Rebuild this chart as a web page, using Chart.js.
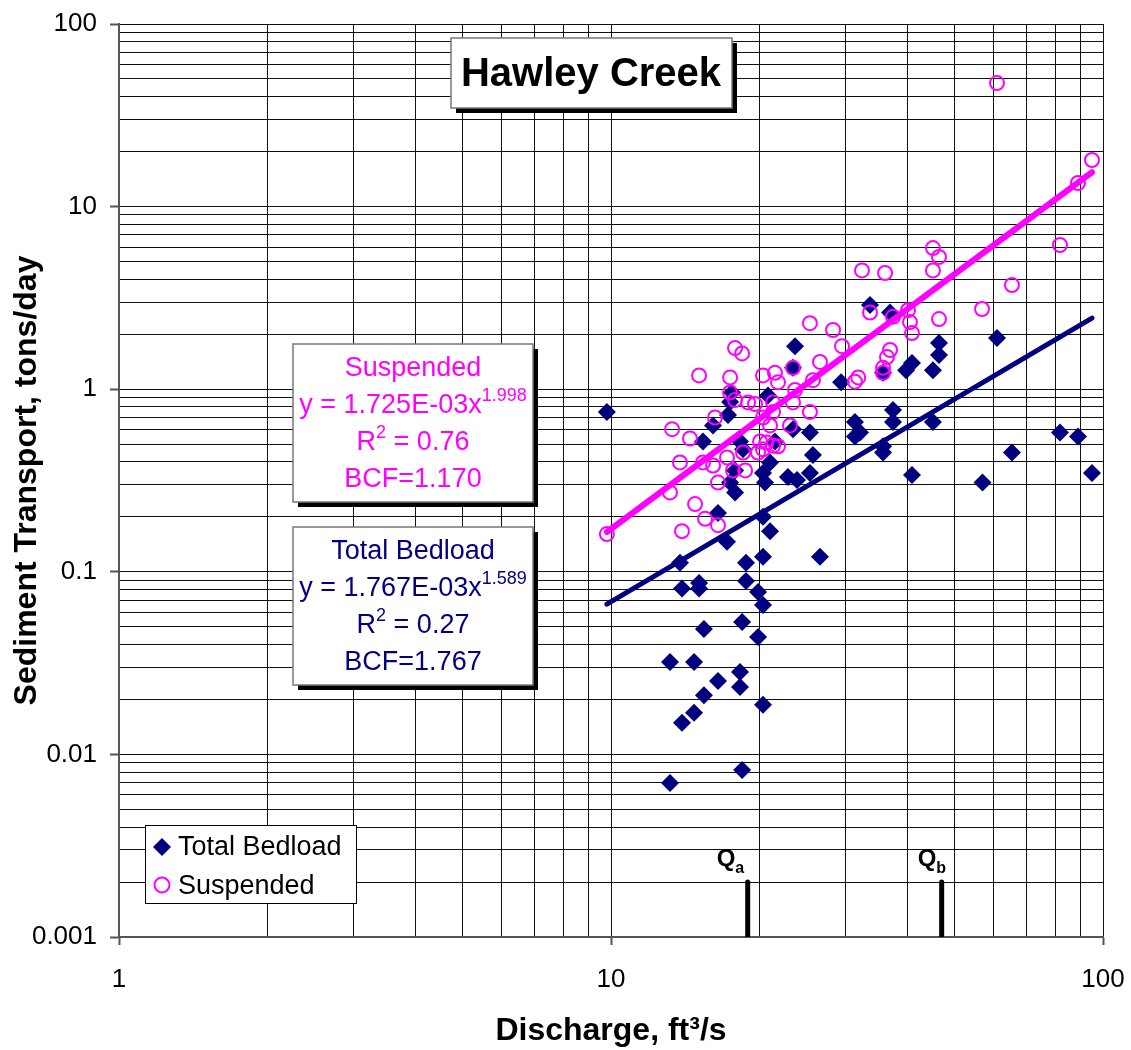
<!DOCTYPE html>
<html>
<head>
<meta charset="utf-8">
<script src="https://cdn.jsdelivr.net/npm/chart.js@4.4.0/dist/chart.umd.min.js"></script>
<style>
    html, body { margin: 0; padding: 0; background: #fff; }
    #wrap { width: 1131px; height: 1050px; }
</style>
</head>
<body>
<div id="wrap"><canvas id="sedimentChart" width="1131" height="1050"></canvas></div>
<script>
// Total bedload: discharge (ft3/s) and transport (tons/day)
const bedloadQ = [9.81, 13.18, 13.18, 13.94, 14.75, 15.45, 16.50, 14.75, 18.29, 18.29,
    18.47, 20.37, 15.45, 18.47, 19.90, 13.94, 15.10, 15.10, 13.81, 17.21,
    18.81, 18.81, 19.90, 20.37, 20.37, 21.05, 20.37, 26.59, 15.38, 16.12,
    17.29, 17.62, 18.29, 18.55, 17.87, 17.46, 17.87, 16.50, 20.85, 21.54,
    23.44, 25.37, 25.73, 21.05, 20.37, 20.56, 22.89, 23.88, 25.37, 23.66,
    23.44, 29.35, 33.61, 36.91, 35.72, 40.91, 39.80, 46.42, 46.42, 45.12,
    60.89, 37.43, 31.32, 32.07, 31.32, 37.43, 45.12, 35.72, 35.72, 40.91,
    65.30, 81.76, 88.96, 56.90, 94.97, 17.46];
const bedloadLoad = [0.750, 0.00697, 0.0321, 0.0149, 0.0169, 0.0211, 0.0252, 0.0321, 0.0283, 0.0234,
    0.00822, 0.0187, 0.0486, 0.0531, 0.0439, 0.0810, 0.0868, 0.0810, 0.112, 0.146,
    0.112, 0.0890, 0.0775, 0.0658, 0.121, 0.167, 0.200, 0.121, 0.517, 0.633,
    0.722, 0.959, 0.517, 0.469, 0.359, 0.308, 0.272, 0.210, 0.925, 0.517,
    0.604, 0.579, 0.436, 0.397, 0.348, 0.308, 0.330, 0.318, 0.348, 1.72,
    1.31, 1.09, 2.89, 2.63, 1.23, 1.39, 1.27, 1.79, 1.54, 1.27,
    1.91, 0.769, 0.661, 0.579, 0.551, 0.661, 0.661, 0.487, 0.450, 0.339,
    0.450, 0.579, 0.551, 0.308, 0.348, 0.850];

// Suspended load
const suspendedQ = [9.81, 13.94, 13.18, 14.82, 15.53, 16.50, 16.50, 13.81, 15.38, 16.12,
    17.21, 17.70, 18.73, 13.31, 14.47, 16.27, 15.10, 17.46, 17.46, 17.87,
    18.99, 19.62, 17.87, 18.47, 20.37, 21.54, 21.85, 23.44, 23.66, 23.44,
    23.11, 25.37, 21.35, 21.35, 20.37, 20.09, 20.70, 21.35, 21.85, 20.37,
    19.90, 18.55, 25.37, 28.27, 29.48, 26.59, 25.73, 31.32, 31.80, 32.37,
    36.06, 45.12, 46.42, 45.12, 33.61, 37.43, 40.15, 40.52, 40.91, 46.42,
    36.39, 36.91, 35.72, 35.72, 81.76, 65.30, 56.77, 60.89, 94.97, 88.96,
    21.05];
const suspendedLoad = [0.161, 0.167, 0.272, 0.235, 0.195, 0.180, 0.308, 0.397, 0.397, 0.382,
    0.423, 0.359, 0.359, 0.604, 0.537, 0.700, 1.19, 1.16, 0.959, 0.873,
    0.846, 0.830, 1.68, 1.57, 1.19, 1.23, 1.09, 1.31, 0.99, 0.846,
    0.633, 0.750, 0.846, 0.750, 0.700, 0.517, 0.510, 0.490, 0.487, 0.469,
    0.450, 0.450, 2.30, 2.11, 1.72, 1.41, 1.12, 1.10, 1.16, 4.47,
    4.33, 5.93, 5.30, 4.47, 2.63, 2.49, 2.71, 2.33, 2.03, 2.42,
    1.50, 1.64, 1.31, 1.23, 6.16, 3.72, 2.75, 47.5, 18.0, 13.47,
    0.633];

// power-law trend lines y = a * x^b (from the equations in the boxes)
const suspendedFit = [1.725e-3, 1.998];
const bedloadFit = [1.767e-3, 1.589];
const fitQRange = [9.81, 94.97];

// Qa / Qb markers on the discharge axis
const markerNames = ['a', 'b'];
const markerQ = [18.96, 47.0];
const markerLoad = [0.001, 0.002];

// axis tick labels (decades only)
const xTickLabels = ['1', '10', '100'];
const yTickLabels = ['0.001', '0.01', '0.1', '1', '10', '100'];

// text boxes
const chartTitle = 'Hawley Creek';
const suspendedBox = [
    ['Suspended'],
    ['y = 1.725E-03x', {t: '1.998', sup: true}],
    ['R', {t: '2', sup: true}, ' = 0.76'],
    ['BCF=1.170']
];
const bedloadBox = [
    ['Total Bedload'],
    ['y = 1.767E-03x', {t: '1.589', sup: true}],
    ['R', {t: '2', sup: true}, ' = 0.27'],
    ['BCF=1.767']
];

document.addEventListener("DOMContentLoaded", function() {

    const FONT = "'Liberation Sans', Arial, Helvetica, sans-serif";
    const NAVY = '#000080';
    const MAGENTA = '#FF00FF';

    const toPoints = (xs, ys) => xs.map((x, i) => ({x: x, y: ys[i]}));
    const fitLine = fit => fitQRange.map(q => ({x: q, y: fit[0] * Math.pow(q, fit[1])}));
    const isDecade = v => Math.abs(Math.log10(v) - Math.round(Math.log10(v))) < 1e-6;

    // 1,2,...,9,10,20,... so every minor grid line is drawn
    function logTicks(lo, hi) {
        const out = [];
        for (let e = lo; e < hi; e++) {
            for (let m = 1; m < 10; m++) out.push({value: m * Math.pow(10, e)});
        }
        out.push({value: Math.pow(10, hi)});
        return out;
    }

    // text with superscript / subscript parts, centred or left aligned
    function drawParts(ctx, parts, x, baseline, size, weight, color, align) {
        const small = Math.round(size * 0.68);
        const items = parts.map(p => typeof p === 'string' ? {t: p} : p);
        let total = 0;
        items.forEach(p => {
            ctx.font = weight + ' ' + ((p.sup || p.sub) ? small : size) + 'px ' + FONT;
            p.w = ctx.measureText(p.t).width;
            total += p.w;
        });
        let cx = align === 'left' ? x : x - total / 2;
        ctx.fillStyle = color;
        ctx.textAlign = 'left';
        ctx.textBaseline = 'alphabetic';
        items.forEach(p => {
            let dy = 0;
            if (p.sup) dy = -size * 0.44;
            if (p.sub) dy = size * 0.3;
            ctx.font = weight + ' ' + ((p.sup || p.sub) ? small : size) + 'px ' + FONT;
            ctx.fillText(p.t, cx, baseline + dy);
            cx += p.w;
        });
    }

    function shadowBox(ctx, x, y, w, h) {
        ctx.fillStyle = '#000';
        ctx.fillRect(x + 5, y + 5, w, h);
        ctx.fillStyle = '#fff';
        ctx.fillRect(x, y, w, h);
        ctx.strokeStyle = '#777';
        ctx.lineWidth = 1.5;
        ctx.strokeRect(x, y, w, h);
    }

    const overlay = {
        id: 'overlay',
        afterDraw(chart) {
            const ctx = chart.ctx;
            const xs = chart.scales.x;
            const ys = chart.scales.y;
            ctx.save();

            // title box
            shadowBox(ctx, 451, 38, 281, 70);
            drawParts(ctx, [chartTitle], 591, 86, 40, 'bold', '#000');

            // equation boxes
            [[suspendedBox, 344, MAGENTA], [bedloadBox, 527, NAVY]].forEach(b => {
                shadowBox(ctx, 293, b[1], 240, 158);
                b[0].forEach((line, i) => {
                    drawParts(ctx, line, 413, b[1] + 32 + i * 37, 27, 'normal', b[2]);
                });
            });

            // Qa / Qb labels
            markerQ.forEach((q, i) => {
                const px = xs.getPixelForValue(q);
                const py = ys.getPixelForValue(markerLoad[1]);
                drawParts(ctx, ['Q', {t: markerNames[i], sub: true}],
                    px - (i === 0 ? 31 : 24), py - 16, 24, 'bold', '#000', 'left');
            });

            // legend
            const ds = chart.data.datasets;
            ctx.fillStyle = '#fff';
            ctx.fillRect(145.5, 825.5, 211, 78);
            ctx.strokeStyle = '#000';
            ctx.lineWidth = 1;
            ctx.strokeRect(145.5, 825.5, 211, 78);
            ctx.beginPath();
            ctx.moveTo(153, 847); ctx.lineTo(162, 838); ctx.lineTo(171, 847); ctx.lineTo(162, 856);
            ctx.closePath();
            ctx.fillStyle = ds[0].backgroundColor;
            ctx.fill();
            ctx.beginPath();
            ctx.arc(162, 885, 7.5, 0, Math.PI * 2);
            ctx.strokeStyle = ds[1].borderColor;
            ctx.lineWidth = 2;
            ctx.stroke();
            drawParts(ctx, [ds[0].label], 178, 855, 27, 'normal', '#000', 'left');
            drawParts(ctx, [ds[1].label], 178, 894, 27, 'normal', '#000', 'left');

            ctx.restore();
        }
    };

    const markerSets = markerQ.map(q => ({
        label: 'Q marker',
        data: markerLoad.map(v => ({x: q, y: v})),
        showLine: true,
        borderColor: '#000',
        borderWidth: 5,
        borderCapStyle: 'round',
        pointRadius: 0,
        order: 0
    }));

    const ctx = document.getElementById('sedimentChart').getContext('2d');
    new Chart(ctx, {
        type: 'scatter',
        data: {
            datasets: [{
                label: 'Total Bedload',
                data: toPoints(bedloadQ, bedloadLoad),
                pointStyle: 'rectRot',
                pointRadius: 9,
                backgroundColor: NAVY,
                borderColor: NAVY,
                borderWidth: 0,
                order: 3
            }, {
                label: 'Suspended',
                data: toPoints(suspendedQ, suspendedLoad),
                pointStyle: 'circle',
                pointRadius: 7,
                backgroundColor: 'rgba(0,0,0,0)',
                borderColor: MAGENTA,
                borderWidth: 2,
                order: 2
            }, {
                label: 'Bedload fit',
                data: fitLine(bedloadFit),
                showLine: true,
                borderColor: NAVY,
                borderWidth: 5,
                borderCapStyle: 'round',
                pointRadius: 0,
                order: 1
            }, {
                label: 'Suspended fit',
                data: fitLine(suspendedFit),
                showLine: true,
                borderColor: MAGENTA,
                borderWidth: 6,
                borderCapStyle: 'round',
                pointRadius: 0,
                order: 1
            }].concat(markerSets)
        },
        options: {
            responsive: false,
            animation: false,
            layout: {
                padding: {top: 24, right: 28, bottom: 0, left: 0}
            },
            plugins: {
                legend: {display: false},
                tooltip: {enabled: false}
            },
            scales: {
                x: {
                    type: 'logarithmic',
                    min: 1,
                    max: 100,
                    afterBuildTicks: scale => { scale.ticks = logTicks(0, 2); },
                    afterFit: scale => {
                        scale.height = 113;
                        scale.paddingLeft = 0;
                        scale.paddingRight = 0;
                    },
                    grid: {
                        color: '#111',
                        lineWidth: 1,
                        tickLength: 8,
                        tickWidth: 2,
                        tickColor: c => (c.tick && isDecade(c.tick.value)) ? '#555' : 'rgba(0,0,0,0)'
                    },
                    border: {display: true, color: '#555', width: 2},
                    ticks: {
                        autoSkip: false,
                        maxRotation: 0,
                        padding: 19,
                        color: '#000',
                        font: {family: FONT, size: 26},
                        callback: v => isDecade(v) ? xTickLabels[Math.round(Math.log10(v))] : ''
                    },
                    title: {
                        display: true,
                        text: 'Discharge, ft³/s',
                        color: '#000',
                        font: {family: FONT, size: 32, weight: 'bold'},
                        padding: {top: 0, bottom: 0}
                    }
                },
                y: {
                    type: 'logarithmic',
                    min: 0.001,
                    max: 100,
                    afterBuildTicks: scale => { scale.ticks = logTicks(-3, 2); },
                    afterFit: scale => {
                        scale.width = 119;
                        scale.paddingTop = 0;
                        scale.paddingBottom = 0;
                    },
                    grid: {
                        color: '#111',
                        lineWidth: 1,
                        tickLength: 9,
                        tickWidth: 2,
                        tickColor: c => (c.tick && isDecade(c.tick.value)) ? '#555' : 'rgba(0,0,0,0)'
                    },
                    border: {display: true, color: '#555', width: 2},
                    ticks: {
                        autoSkip: false,
                        padding: 13,
                        color: '#000',
                        font: {family: FONT, size: 26},
                        callback: v => isDecade(v) ? yTickLabels[Math.round(Math.log10(v)) + 3] : ''
                    },
                    title: {
                        display: true,
                        text: 'Sediment Transport, tons/day',
                        color: '#000',
                        font: {family: FONT, size: 32, weight: 'bold'},
                        padding: {top: 8, bottom: 0}
                    }
                }
            }
        },
        plugins: [overlay]
    });
});
</script>
</body>
</html>
